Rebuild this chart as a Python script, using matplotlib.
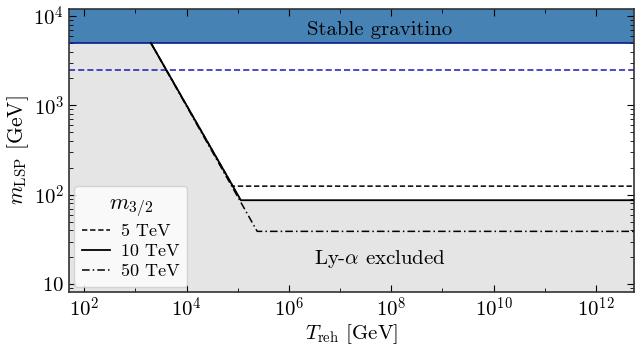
import matplotlib
matplotlib.use('Agg')
import matplotlib.pyplot as plt
import numpy
from matplotlib.ticker import FixedLocator, NullFormatter, FuncFormatter

plt.rcParams['font.family'] = 'serif'
plt.rcParams['font.serif'] = ['cmr10']
plt.rcParams['mathtext.fontset'] = 'cm'
plt.rcParams['axes.formatter.use_mathtext'] = True

# data
T_5 = [2e3, 8e4, 6e12]
m_5 = [5000, 125, 125]
T_10 = [2e3, 1.15e5, 6e12]
m_10 = [5000, 87, 87]
T_50 = [2e3, 2.4e5, 6e12]
m_50 = [5000, 39, 39]

T_grey = [40, 2e3, 1.15e5, 6e12]
m_grey = [5000, 5000, 87, 87]

m_stable = 5000
m_blue_dashed = 2500

xlim = (50, 5.5e12)
ylim = (8.2, 1.2e4)


def logfmt(v, pos):
    k = int(round(numpy.log10(v)))
    if k == 1:
        return r'$10$'
    return r'$10^{%d}$' % k


fig = plt.figure(figsize=(6.44, 3.56), dpi=100)
ax = fig.add_axes([0.107, 0.18, 0.877, 0.795])

ax.fill_between(T_grey, ylim[0], m_grey, color='#e5e5e5', lw=0, zorder=0)
ax.axhspan(m_stable, 1e5, color='#4682b4', lw=0, zorder=1)
ax.axhline(m_stable, color='#0a1a8c', lw=1.2, zorder=2)
ax.axhline(m_blue_dashed, color='#1a1ab8', lw=1.1, ls=(0, (4, 2)), zorder=2)

ax.plot(T_5, m_5, color='k', ls=(0, (3.5, 1.8)), lw=1.1, label='5 TeV', zorder=3)
ax.plot(T_50, m_50, color='k', ls=(0, (5, 2, 1, 2)), lw=1.1, label='50 TeV', zorder=3)
ax.plot(T_10, m_10, 'k-', lw=1.3, label='10 TeV', zorder=4)

ax.set_xscale('log')
ax.set_yscale('log')
ax.set_xlim(*xlim)
ax.set_ylim(*ylim)

ax.xaxis.set_major_locator(FixedLocator([10.0**k for k in range(2, 13, 2)]))
ax.xaxis.set_minor_locator(FixedLocator([10.0**k for k in range(1, 14, 2)]))
ax.xaxis.set_minor_formatter(NullFormatter())
ax.xaxis.set_major_formatter(FuncFormatter(logfmt))
ax.yaxis.set_major_formatter(FuncFormatter(logfmt))

ax.tick_params(which='both', direction='in', top=True, right=True, labelsize=15)
ax.tick_params(which='major', length=5)
ax.tick_params(which='minor', length=3)
for s in ax.spines.values():
    s.set_color('#333333')
    s.set_linewidth(1.2)

ax.set_xlabel(r'$T_{\rm reh}$ [GeV]', fontsize=15, labelpad=1)
ax.set_ylabel(r'$m_{\rm LSP}$ [GeV]', fontsize=15.5, labelpad=2)

ax.text(6e7, 7000, 'Stable gravitino', fontsize=15, ha='center', va='center')
ax.text(6e7, 19, r'Ly-$\alpha$ excluded', fontsize=15, ha='center', va='center')

h, l = ax.get_legend_handles_labels()
order = [0, 2, 1]
ax.legend([h[i] for i in order], [l[i] for i in order], title=r'$m_{3/2}$',
          loc='lower left', fontsize=13, title_fontsize=16, handlelength=1.6,
          handletextpad=0.6, labelspacing=0.25, borderaxespad=0.3,
          borderpad=0.4, framealpha=0.8)

fig.savefig('out.png', dpi=100)
